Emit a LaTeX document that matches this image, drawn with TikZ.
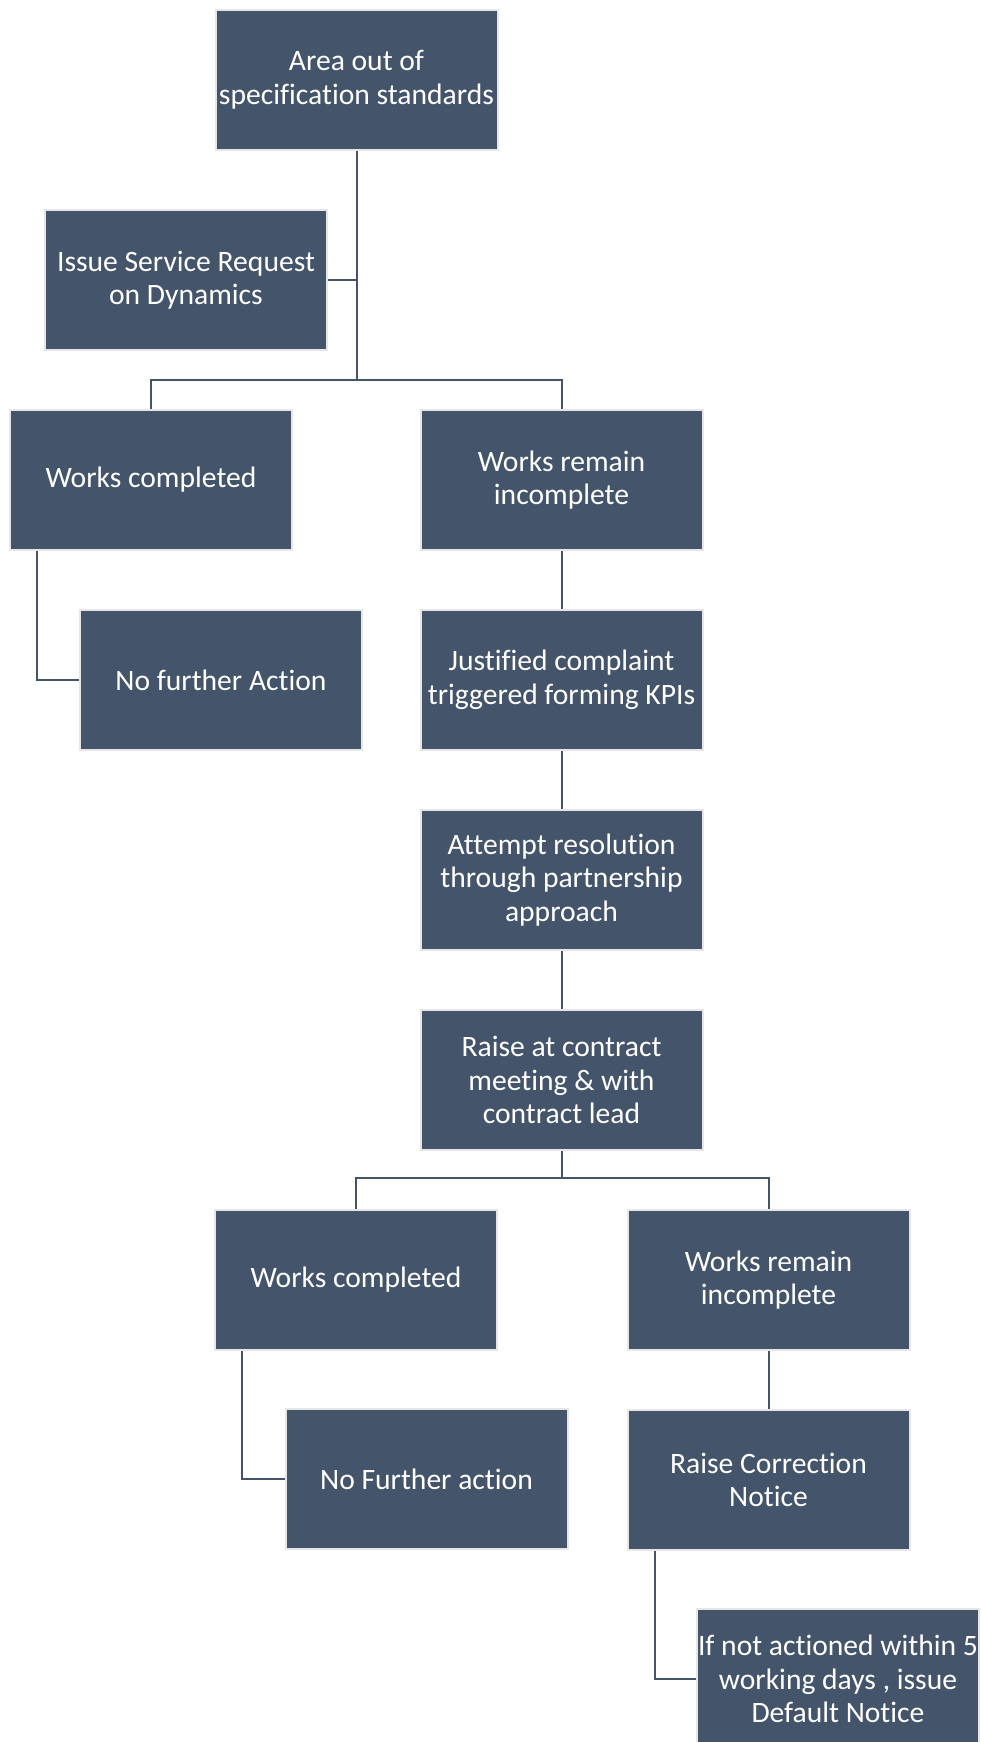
\documentclass[tikz,border=0pt]{standalone}
\usepackage{fontspec}
\setmainfont{Carlito}[Ligatures={NoCommon}]
\usepackage{xcolor}

\definecolor{boxfill}{HTML}{44546A}
\definecolor{boxedge}{HTML}{E6E6E6}

\begin{document}
\begin{tikzpicture}[x=0.5pt,y=-0.5pt]
  \tikzstyle{box}=[rectangle,draw=boxedge,line width=1pt,fill=boxfill,text=white,
    minimum width=141pt,minimum height=70pt,inner sep=0pt,align=center,
    font=\fontsize{14.8pt}{16.8pt}\selectfont]
  \tikzstyle{link}=[draw=boxfill,line width=1pt]
  \useasboundingbox (0,0) rectangle (981,1742);
  \node[box] (area) at (356.5,80) {Area out of\\specification standards};
  \node[box] (issue) at (186,280) {Issue Service Request\\on Dynamics};
  \node[box] (wc1) at (151,480) {Works completed};
  \node[box] (wri1) at (561.5,480) {Works remain\\incomplete};
  \node[box] (nfa1) at (221,680) {No further Action};
  \node[box] (just) at (561.5,680) {Justified complaint\\triggered forming KPIs};
  \node[box] (attempt) at (561.5,880) {Attempt resolution\\through partnership\\approach};
  \node[box] (raise) at (561.5,1080) {Raise at contract\\meeting \& with\\contract lead};
  \node[box] (wc2) at (356,1280) {Works completed};
  \node[box] (wri2) at (768.5,1280) {Works remain\\incomplete};
  \node[box] (nfa2) at (426.5,1479) {No Further action};
  \node[box] (rcn) at (768.5,1480) {Raise Correction\\Notice};
  \node[box] (dflt) at (838,1679) {If not actioned within 5\\working days , issue\\Default Notice};
  \coordinate (j1) at (356.5,380);
  \coordinate (j2) at (561.5,1178);
  % upper tree
  \draw[link] (area.south) -- (j1);
  \draw[link] (issue.east) -- (issue.east -| area.south);
  \draw[link] (wc1.north) |- (j1) -| (wri1.north);
  \draw[link] ([xshift=14pt]wc1.south west) |- (nfa1.west);
  \draw[link] (wri1) -- (just);
  \draw[link] (just) -- (attempt);
  \draw[link] (attempt) -- (raise);
  % lower tree
  \draw[link] (raise.south) -- (j2);
  \draw[link] (wc2.north) |- (j2) -| (wri2.north);
  \draw[link] ([xshift=14pt]wc2.south west) |- (nfa2.west);
  \draw[link] (wri2) -- (rcn);
  \draw[link] ([xshift=14pt]rcn.south west) |- (dflt.west);
\end{tikzpicture}
\end{document}
